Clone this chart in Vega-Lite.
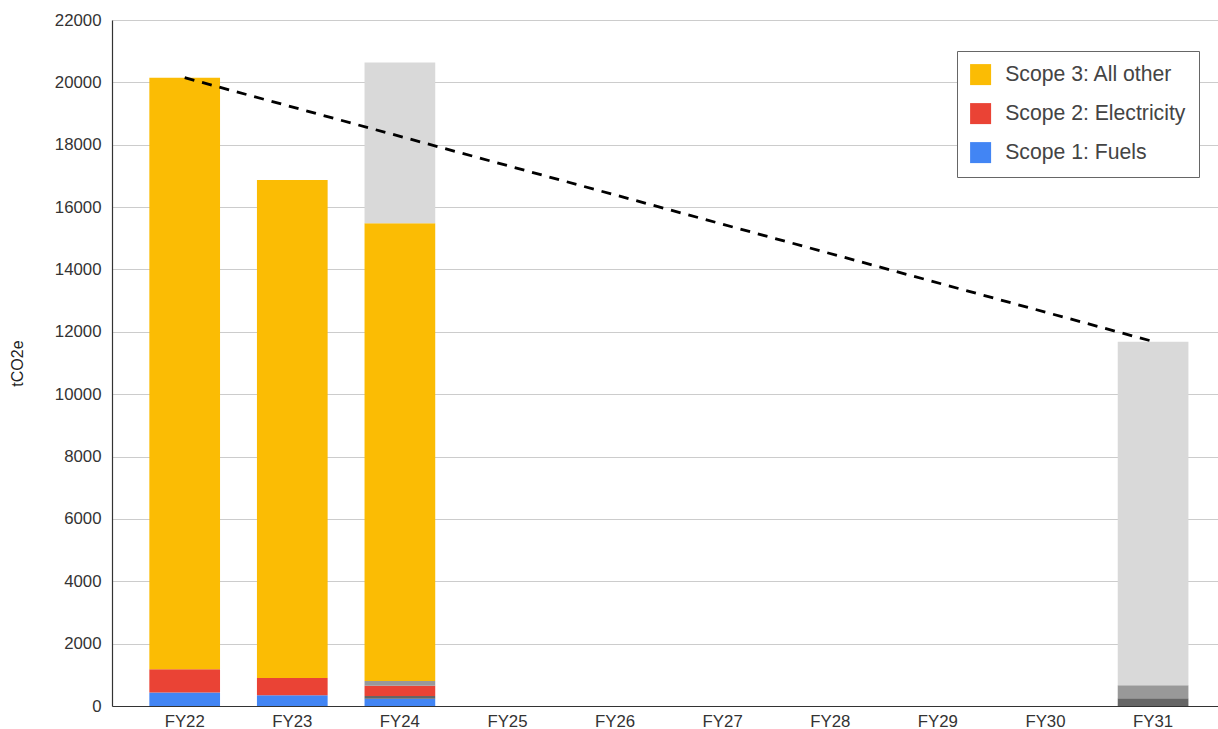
{
  "$schema": "https://vega.github.io/schema/vega-lite/v6.json",
  "autosize": {"type": "none"},
  "padding": {"left": 112, "top": 20, "right": 0, "bottom": 23},
  "width": 1106,
  "height": 686,
  "background": "white",
  "config": {
    "font": "Liberation Sans",
    "view": {"stroke": null},
    "axis": {"labelFont": "Liberation Sans", "titleFont": "Liberation Sans"}
  },
  "datasets": {
    "bars": [
      {"year": "FY22", "series": "Scope 1: Fuels", "ord": 1, "value": 430},
      {"year": "FY22", "series": "Scope 2: Electricity", "ord": 3, "value": 745},
      {"year": "FY22", "series": "Scope 3: All other", "ord": 5, "value": 18975},
      {"year": "FY23", "series": "Scope 1: Fuels", "ord": 1, "value": 345},
      {"year": "FY23", "series": "Scope 2: Electricity", "ord": 3, "value": 550},
      {"year": "FY23", "series": "Scope 3: All other", "ord": 5, "value": 15975},
      {"year": "FY24", "series": "Scope 1: Fuels", "ord": 1, "value": 235},
      {"year": "FY24", "series": "Scope 1 (grey)", "ord": 2, "value": 85},
      {"year": "FY24", "series": "Scope 2: Electricity", "ord": 3, "value": 330},
      {"year": "FY24", "series": "Scope 2 (grey)", "ord": 4, "value": 150},
      {"year": "FY24", "series": "Scope 3: All other", "ord": 5, "value": 14680},
      {"year": "FY24", "series": "Scope 3 (grey)", "ord": 6, "value": 5160},
      {"year": "FY31", "series": "Scope 1 (grey)", "ord": 2, "value": 245},
      {"year": "FY31", "series": "Scope 2 (grey)", "ord": 4, "value": 417},
      {"year": "FY31", "series": "Scope 3 (grey)", "ord": 6, "value": 11018}
    ],
    "target": [
      {"year": "FY22", "value": 20150},
      {"year": "FY31", "value": 11690}
    ]
  },
  "layer": [
    {
      "data": {"name": "bars"},
      "mark": {"type": "bar"},
      "encoding": {
        "x": {
          "field": "year",
          "type": "nominal",
          "scale": {
            "domain": ["FY22", "FY23", "FY24", "FY25", "FY26", "FY27", "FY28", "FY29", "FY30", "FY31"],
            "paddingInner": 0.343,
            "paddingOuter": 0.311,
            "align": 0.558
          },
          "axis": {
            "title": null,
            "labelAngle": 0,
            "ticks": false,
            "domainColor": "#333333",
            "domainWidth": 1.2,
            "labelColor": "#333333",
            "labelFontSize": 16.8,
            "labelPadding": 7,
            "grid": false
          }
        },
        "y": {
          "field": "value",
          "type": "quantitative",
          "stack": "zero",
          "scale": {"domain": [0, 22000], "nice": false},
          "axis": {
            "title": "tCO2e",
            "titleFontWeight": "normal",
            "titleFontSize": 16,
            "titleColor": "#222222",
            "titlePadding": 29,
            "values": [0, 2000, 4000, 6000, 8000, 10000, 12000, 14000, 16000, 18000, 20000, 22000],
            "format": "d",
            "ticks": false,
            "domainColor": "#333333",
            "domainWidth": 1.2,
            "gridColor": "#cccccc",
            "labelColor": "#333333",
            "labelFontSize": 16.8,
            "labelPadding": 11
          }
        },
        "order": {"field": "ord", "type": "quantitative", "sort": "ascending"},
        "color": {
          "field": "series",
          "type": "nominal",
          "scale": {
            "domain": ["Scope 3: All other", "Scope 2: Electricity", "Scope 1: Fuels", "Scope 1 (grey)", "Scope 2 (grey)", "Scope 3 (grey)"],
            "range": ["#FBBC04", "#EA4335", "#4285F4", "#666666", "#999999", "#D9D9D9"]
          },
          "legend": {
            "title": null,
            "values": ["Scope 3: All other", "Scope 2: Electricity", "Scope 1: Fuels"],
            "orient": "none",
            "legendX": 845,
            "legendY": 31,
            "symbolType": "square",
            "symbolSize": 441,
            "symbolStrokeWidth": 0,
            "symbolOpacity": 1,
            "labelFontSize": 21.2,
            "labelLimit": 0,
            "labelColor": "#444444",
            "labelFont": "Liberation Sans",
            "labelOffset": 14,
            "rowPadding": 16,
            "padding": 13,
            "strokeColor": "#666666",
            "fillColor": "white"
          }
        }
      }
    },
    {
      "data": {"name": "target"},
      "mark": {"type": "line", "color": "black", "strokeWidth": 2.8, "strokeDash": [10, 8]},
      "encoding": {
        "x": {"field": "year", "type": "nominal"},
        "y": {"field": "value", "type": "quantitative"}
      }
    }
  ]
}
